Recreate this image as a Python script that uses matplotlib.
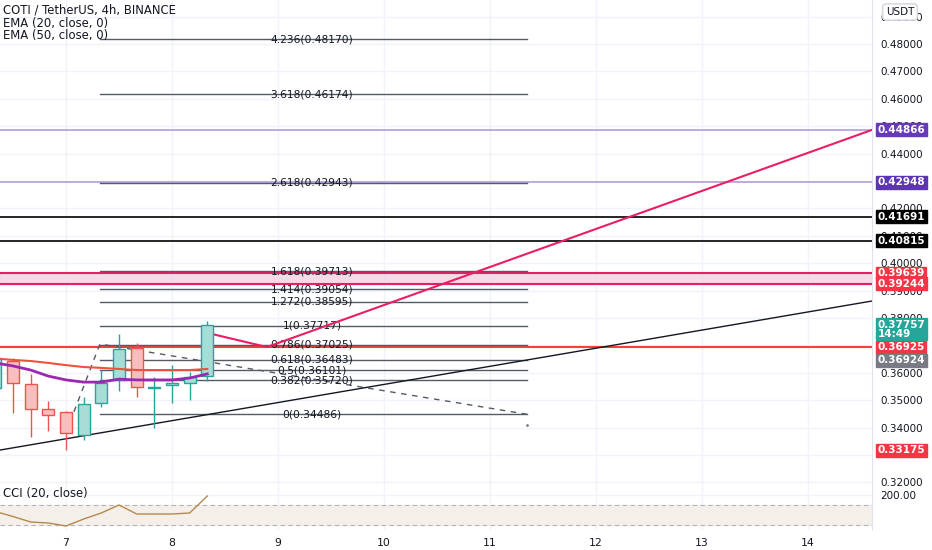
import matplotlib
matplotlib.use('Agg')
import matplotlib.pyplot as plt
import matplotlib.transforms as mtransforms
import numpy as np

# 4h candles (time in days of month)
t = [6.333, 6.5, 6.667, 6.833, 7.0, 7.167, 7.333, 7.5, 7.667, 7.833, 8.0, 8.167, 8.333]
opens = [0.3545, 0.3643, 0.3559, 0.3468, 0.3457, 0.3373, 0.3490, 0.3574, 0.3690, 0.3545, 0.3555, 0.3563, 0.3588]
highs = [0.3668, 0.3654, 0.3596, 0.3497, 0.3462, 0.3512, 0.3610, 0.3742, 0.3709, 0.3585, 0.3628, 0.3603, 0.3789]
lows = [0.3520, 0.3453, 0.3366, 0.3388, 0.33175, 0.3355, 0.3475, 0.3534, 0.3512, 0.3399, 0.3490, 0.3501, 0.3570]
closes = [0.3654, 0.3563, 0.3468, 0.3446, 0.3380, 0.3486, 0.3563, 0.3687, 0.3548, 0.3548, 0.3563, 0.3585, 0.37757]

ema20 = [0.3652, 0.3647, 0.3643, 0.3636, 0.3628, 0.3621, 0.3618, 0.3614, 0.3610, 0.3610, 0.3610, 0.3610, 0.3614]
ema50 = [0.3636, 0.3625, 0.3610, 0.3588, 0.3574, 0.3566, 0.3566, 0.3577, 0.3574, 0.3574, 0.3574, 0.3581, 0.3596]
cci = [35, -15, -70, -80, -110, -40, 20, 100, 10, 10, 10, 20, 190]

# trend-based fib extension
fib_levels = ['4.236', '3.618', '2.618', '1.618', '1.414', '1.272', '1', '0.786', '0.618', '0.5', '0.382', '0']
fib_prices = [0.48170, 0.46174, 0.42943, 0.39713, 0.39054, 0.38595, 0.37717, 0.37025, 0.36483, 0.36101, 0.35720, 0.34486]
fib_pts_t = [7.0, 7.32, 11.35]
fib_pts_p = [0.3382, 0.3705, 0.34486]

# drawn lines
trend_t = [6.377, 14.604]
trend_p = [0.3318, 0.3862]
proj_t = [8.34, 8.896, 14.604]
proj_p = [0.3745, 0.3694, 0.44866]
band = [0.39244, 0.39639]
red_line = 0.36925
hlines_p = [0.44866, 0.42948, 0.41691, 0.40815]
hlines_c = ['#b39ddb', '#b39ddb', '#000000', '#000000']

# right-axis price labels
lab_vals = [0.44866, 0.42948, 0.41691, 0.40815, 0.39639, 0.39244, 0.36925, 0.33175]
lab_cols = ['#673ab7', '#5e35b1', '#000000', '#000000', '#f23645', '#f23645', '#f23645', '#f23645']
price_ticks = [0.32, 0.34, 0.35, 0.36, 0.38, 0.39, 0.40, 0.41, 0.42, 0.44, 0.45, 0.46, 0.47, 0.48, 0.49]

days = [7, 8, 9, 10, 11, 12, 13, 14]

fig = plt.figure(figsize=(9.32, 5.5), dpi=100)
ax = fig.add_axes([0, 1 - 485 / 550, 872 / 932, 485 / 550])
ax2 = fig.add_axes([0, 1 - 530 / 550, 872 / 932, 45 / 550], sharex=ax)

ax.set_xlim(6.3774, 14.6038)
ax.set_ylim(0.31905, 0.49606)

for a in (ax, ax2):
    for d in days:
        a.axvline(d, color='#f0f3fa', lw=1, zorder=0)
for v in np.arange(0.32, 0.495, 0.01):
    ax.axhline(v, color='#f0f3fa', lw=1, zorder=0)

# horizontal levels
for p, c in zip(hlines_p, hlines_c):
    ax.axhline(p, color=c, lw=1.2, zorder=2)
ax.axhspan(band[0], band[1], color='#f5d0e3', alpha=0.8, zorder=1)
ax.axhline(band[0], color='#e91e63', lw=1.5, zorder=2)
ax.axhline(band[1], color='#e91e63', lw=1.5, zorder=2)
ax.axhline(red_line, color='#f44336', lw=1.5, zorder=2)

# fib extension
for lv, p in zip(fib_levels, fib_prices):
    ax.plot([7.32, 11.35], [p, p], color='#555a66', lw=1, zorder=3)
    ax.text(9.32, p, '%s(%.5f)' % (lv, p), ha='center', va='center', fontsize=7.7,
            color='#131722', zorder=4)
ax.plot(fib_pts_t, fib_pts_p, color='#555a66', lw=1, ls=(0, (4, 4)), zorder=3)
ax.plot([11.35], [0.3410], marker='.', ms=2, color='#787b86', zorder=3)

# trend lines
ax.plot(trend_t, trend_p, color='#131722', lw=1, zorder=3)
ax.plot(proj_t, proj_p, color='#e91e63', lw=1.5, zorder=4)

# candles
w = 0.11
for ti, o, h, l, c in zip(t, opens, highs, lows, closes):
    up = c >= o
    ec = '#26a69a' if up else '#ef5350'
    fc = '#a8ddd7' if up else '#f8bdbd'
    ax.vlines(ti, l, h, color=ec, lw=1, zorder=5)
    ax.bar(ti, max(abs(c - o), 0.0003), bottom=min(o, c), width=w,
           facecolor=fc, edgecolor=ec, lw=1, zorder=6)

ax.plot(t, ema20, color='#f0513e', lw=1.5, zorder=7)
ax.plot(t, ema50, color='#9c27b0', lw=2, zorder=7)

# axes styling
for a in (ax, ax2):
    for s in ('top', 'left', 'bottom'):
        a.spines[s].set_visible(False)
    a.spines['right'].set_color('#e0e3eb')
    a.yaxis.tick_right()
    a.tick_params(axis='y', length=0, pad=6, labelsize=7.5, labelcolor='#131722')
ax.spines['bottom'].set_visible(True)
ax.spines['bottom'].set_color('#e0e3eb')
ax.set_yticks(price_ticks)
ax.set_yticklabels(['%.5f' % v for v in price_ticks])
ax.tick_params(axis='x', length=0, labelbottom=False)

trans = mtransforms.blended_transform_factory(ax.transAxes, ax.transData)
box_kw = dict(xycoords=trans, textcoords='offset points', ha='left', va='center',
              fontsize=7.5, color='white', fontweight='bold', zorder=20,
              annotation_clip=False)
for v, c in zip(lab_vals, lab_cols):
    ax.annotate('%.5f' % v, xy=(1.0, v), xytext=(4, 0),
                bbox=dict(boxstyle='square,pad=0.15', fc=c, ec=c), **box_kw)
ax.annotate('%.5f\n14:49' % closes[-1], xy=(1.0, closes[-1]), xytext=(4, -3.2),
            linespacing=0.85,
            bbox=dict(boxstyle='square,pad=0.15', fc='#26a69a', ec='#26a69a'), **box_kw)
ax.annotate('%.5f' % 0.36924, xy=(1.0, 0.36924), xytext=(4, -9.2),
            bbox=dict(boxstyle='square,pad=0.15', fc='#787b86', ec='#787b86'), **box_kw)

fig.text(900 / 932, 1 - 12 / 550, 'USDT', ha='center', va='center', fontsize=7.5,
         color='#131722', zorder=30,
         bbox=dict(boxstyle='round,pad=0.3', fc='white', ec='#d1d4dc'))

# legend texts
fig.text(3 / 932, 1 - 10 / 550, 'COTI / TetherUS, 4h, BINANCE', fontsize=8.4,
         color='#131722', va='center')
fig.text(3 / 932, 1 - 23 / 550, 'EMA (20, close, 0)', fontsize=8.4, color='#131722', va='center')
fig.text(3 / 932, 1 - 35 / 550, 'EMA (50, close, 0)', fontsize=8.4, color='#131722', va='center')

# CCI panel
ax2.set_ylim(-150, 300)
ax2.axhspan(-100, 100, color='#f4efe8', zorder=0)
ax2.axhline(100, color='#b2b5be', lw=0.8, ls=(0, (4, 3)), zorder=1)
ax2.axhline(-100, color='#b2b5be', lw=0.8, ls=(0, (4, 3)), zorder=1)
ax2.axhline(200, color='#f0f3fa', lw=1, zorder=0)
ax2.plot(t, cci, color='#b5894d', lw=1, zorder=3)
ax2.set_yticks([200])
ax2.set_yticklabels(['200.00'])
ax2.set_xticks(days)
ax2.set_xticklabels([str(d) for d in days])
ax2.tick_params(axis='x', length=0, pad=6, labelsize=7.8, labelcolor='#131722')
ax2.text(3 / 872, 0.8, 'CCI (20, close)', transform=ax2.transAxes, fontsize=8.4,
         color='#131722', va='center')

fig.savefig('out.png', dpi=100)
